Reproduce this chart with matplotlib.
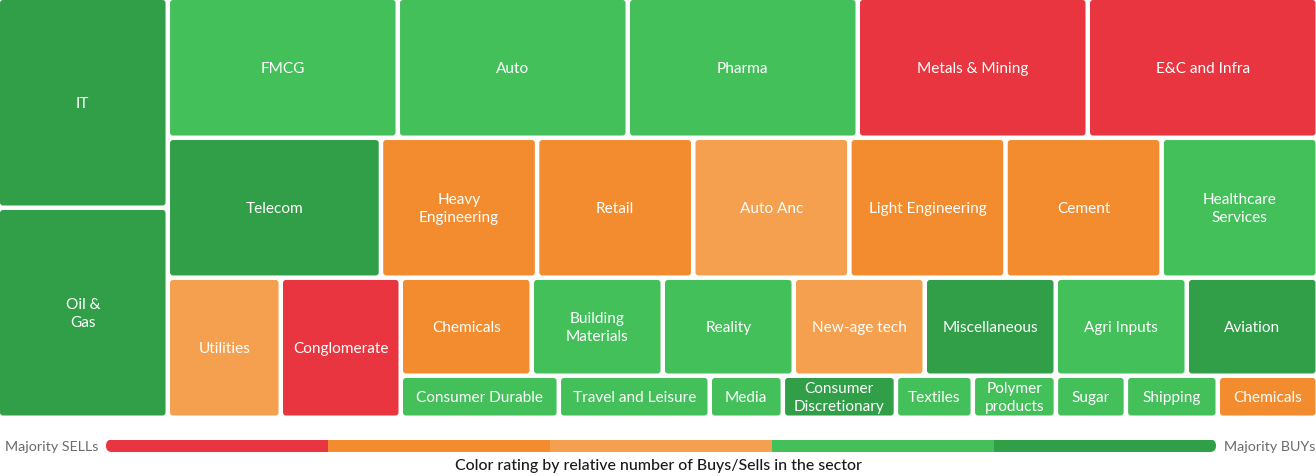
import matplotlib
matplotlib.use("Agg")
import matplotlib.pyplot as plt
from matplotlib.patches import FancyBboxPatch, Rectangle

plt.rcParams['font.family'] = ['Lato', 'DejaVu Sans']

# sector weights (tile areas) and rating 1 = majority sells ... 5 = majority buys
left_names = ['IT', 'Oil &\nGas']
left_values = [357, 357]
left_ratings = [5, 5]

row1_names = ['FMCG', 'Auto', 'Pharma', 'Metals & Mining', 'E&C and Infra']
row1_values = [322, 322, 322, 322, 322]
row1_ratings = [4, 4, 4, 1, 1]

row2_names = ['Telecom', 'Heavy\nEngineering', 'Retail', 'Auto Anc',
              'Light Engineering', 'Cement', 'Healthcare\nServices']
row2_values = [298.2, 218.4, 218.4, 218.4, 218.4, 218.4, 218.4]
row2_ratings = [5, 2, 2, 3, 2, 2, 4]

row3_names = ['Utilities', 'Conglomerate']
row3_values = [158.2, 168]
row3_ratings = [3, 1]

mid_names = ['Chemicals', 'Building\nMaterials', 'Reality', 'New-age tech',
             'Miscellaneous', 'Agri Inputs', 'Aviation']
mid_values = [128.4] * 7
mid_ratings = [2, 4, 4, 3, 5, 4, 5]

low_names = ['Consumer Durable', 'Travel and Leisure', 'Media', 'Consumer\nDiscretionary',
             'Textiles', 'Polymer\nproducts', 'Sugar', 'Shipping', 'Chemicals']
low_values = [66.4, 63.4, 30.7, 47.5, 32.3, 34.9, 29.4, 38.6, 42]
low_ratings = [4, 4, 4, 5, 4, 4, 4, 4, 2]

rating_colors = {1: '#E8353F', 2: '#F28C2F', 3: '#F5A04F', 4: '#43C05A', 5: '#319E48'}
legend_left = 'Majority SELLs'
legend_right = 'Majority BUYs'
caption = 'Color rating by relative number of Buys/Sells in the sector'

W, H = 1316, 476
MAP_W, MAP_H = 1320, 420   # includes one trailing gap
GAP = 4.5


def split(values, x, y, w, h, horizontal):
    total = sum(values)
    out = []
    for v in values:
        if horizontal:
            dw = w * v / total
            out.append((x, y, dw, h))
            x += dw
        else:
            dh = h * v / total
            out.append((x, y, w, dh))
            y += dh
    return out


fig = plt.figure(figsize=(W / 100, H / 100), dpi=100)
ax = fig.add_axes([0, 0, 1, 1])
ax.set_xlim(0, W)
ax.set_ylim(H, 0)
ax.axis('off')

tiles = []
sum_mid, sum_low = sum(mid_values), sum(low_values)
sum_r1, sum_r2 = sum(row1_values), sum(row2_values)
sum_r3 = sum(row3_values) + sum_mid + sum_low
colA, colB = split([sum(left_values), sum_r1 + sum_r2 + sum_r3], 0, 0, MAP_W, MAP_H, True)
tiles += list(zip(left_names, left_ratings, split(left_values, *colA, False)))
r1, r2, r3 = split([sum_r1, sum_r2, sum_r3], *colB, False)
tiles += list(zip(row1_names, row1_ratings, split(row1_values, *r1, True)))
tiles += list(zip(row2_names, row2_ratings, split(row2_values, *r2, True)))
*r3_tiles, block = split(row3_values + [sum_mid + sum_low], *r3, True)
tiles += list(zip(row3_names, row3_ratings, r3_tiles))
b_mid, b_low = split([sum_mid, sum_low], *block, False)
tiles += list(zip(mid_names, mid_ratings, split(mid_values, *b_mid, True)))
tiles += list(zip(low_names, low_ratings, split(low_values, *b_low, True)))

for name, rating, (x, y, w, h) in tiles:
    ax.add_patch(FancyBboxPatch((x, y), w - GAP, h - GAP,
                                boxstyle='round,pad=0,rounding_size=3',
                                fc=rating_colors[rating], ec='none'))
    ax.text(x + (w - GAP) / 2, y + (h - GAP) / 2 + 1.5, name, color='white',
            fontsize=11.1, ha='center', va='center', linespacing=1.38)

# legend bar
bar_x0, bar_x1, bar_y, bar_h = 106, 1216, 439.5, 12.5
clip = FancyBboxPatch((bar_x0, bar_y), bar_x1 - bar_x0, bar_h,
                      boxstyle='round,pad=0,rounding_size=6', fc='none', ec='none')
ax.add_patch(clip)
seg_w = (bar_x1 - bar_x0) / len(rating_colors)
for i, r in enumerate(sorted(rating_colors)):
    seg = Rectangle((bar_x0 + i * seg_w, bar_y), seg_w + 0.5, bar_h,
                    fc=rating_colors[r], ec='none')
    ax.add_patch(seg)
    seg.set_clip_path(clip)

ax.text(bar_x0 - 8, bar_y + bar_h / 2 + 1, legend_left, ha='right', va='center',
        fontsize=10.3, color='#6b6b6b')
ax.text(W - 1, bar_y + bar_h / 2 + 1, legend_right, ha='right', va='center',
        fontsize=10.3, color='#6b6b6b')
ax.text(W / 2, 466, caption, ha='center', va='center', fontsize=11.4,
        color='#1a1a1a', fontweight='medium')

fig.savefig('out.png', dpi=100)
